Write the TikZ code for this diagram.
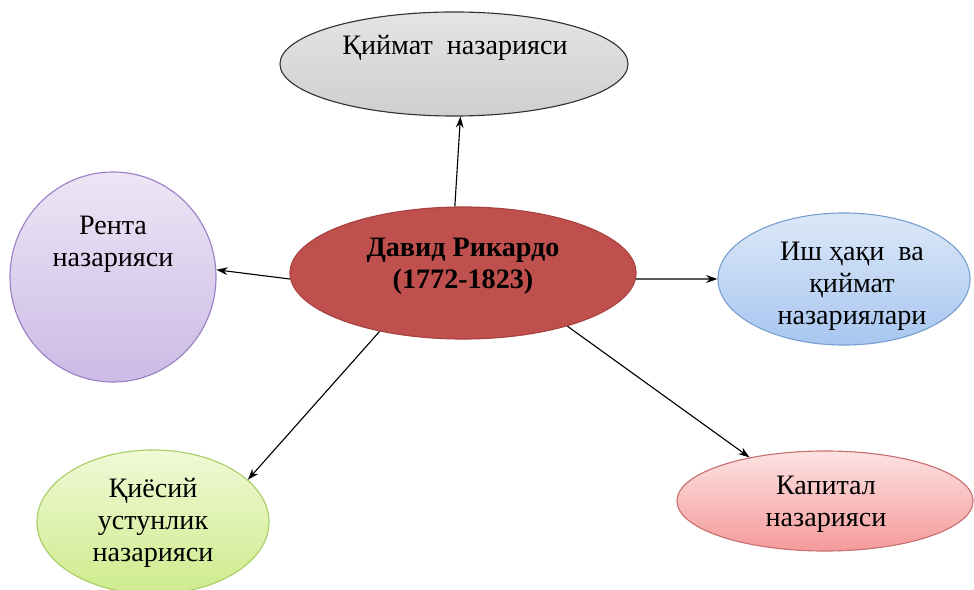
\documentclass[tikz,border=0pt]{standalone}
\usepackage{fontspec}
\setmainfont{LiberationSerif}[Extension=.ttf, UprightFont=*-Regular, BoldFont=*-Bold, ItalicFont=*-Italic, BoldItalicFont=*-BoldItalic]
\usetikzlibrary{shapes.geometric,arrows.meta}
\definecolor{greytop}{HTML}{E4E4E4}
\definecolor{greybot}{HTML}{CFCFCF}
\definecolor{purpletop}{HTML}{EDE6F5}
\definecolor{purplebot}{HTML}{CBBBE6}
\definecolor{purpleline}{HTML}{9B7FC4}
\definecolor{bluetop}{HTML}{DCE8F8}
\definecolor{bluebot}{HTML}{A8C6F0}
\definecolor{blueline}{HTML}{7AA0D0}
\definecolor{greentop}{HTML}{F1F9D6}
\definecolor{greenbot}{HTML}{CDEB8C}
\definecolor{greenline}{HTML}{A8CF66}
\definecolor{pinktop}{HTML}{FDE2E2}
\definecolor{pinkbot}{HTML}{F49A9A}
\definecolor{pinkline}{HTML}{C87070}
\definecolor{ricardo}{HTML}{C0504D}
\definecolor{ricardoline}{HTML}{A8423F}
\tikzset{
 bubble/.style={ellipse, draw, line width=0.8pt, inner sep=0pt},
 bubbletext/.style={align=center, inner sep=0pt, font=\fontsize{20}{22.7}\selectfont},
 link/.style={-{Stealth[length=8pt,width=5.5pt]}, line width=0.8pt}
}
\begin{document}
\begin{tikzpicture}[x=0.025cm, y=-0.025cm]
 \useasboundingbox (0,0) rectangle (974,590);
 % theories round the centre
 \node[bubble, draw=black!80, top color=greytop, bottom color=greybot, minimum width=8.7cm, minimum height=2.6cm] (kiymat) at (454,64) {};
 \node[bubble, draw=purpleline, top color=purpletop, bottom color=purplebot, minimum width=5.15cm, minimum height=5.25cm] (renta) at (113,277) {};
 \node[bubble, draw=blueline, top color=bluetop, bottom color=bluebot, minimum width=6.3cm, minimum height=3.3cm] (ishhaki) at (844,279) {};
 \node[bubble, draw=greenline, top color=greentop, bottom color=greenbot, minimum width=5.8cm, minimum height=3.6cm] (kiyosiy) at (153,522) {};
 \node[bubble, draw=pinkline, top color=pinktop, bottom color=pinkbot, minimum width=7.4cm, minimum height=2.5cm] (kapital) at (825,501) {};
 \node[bubble, draw=ricardoline, fill=ricardo, minimum width=8.65cm, minimum height=3.3cm] (david) at (463,273) {};
 % texts
 \node[bubbletext] (kiymattext) at (455,48) {Қиймат~ назарияси};
 \node[bubbletext] (rentatext) at (113,244) {Рента\\назарияси};
 \node[bubbletext, font=\fontsize{20}{22.7}\selectfont\bfseries] (davidtext) at (463,266) {Давид Рикардо\\(1772-1823)};
 \node[bubbletext] (ishhakitext) at (852,286) {Иш ҳақи~ ва\\қиймат\\назариялари};
 \node[bubbletext] (kiyosiytext) at (153,523) {Қиёсий\\устунлик\\назарияси};
 \node[bubbletext] (kapitaltext) at (826,504) {Капитал\\назарияси};
 % arrows
 \draw[link] (david.97) -- (kiymat.277);
 \draw[link] (david.182) -- (renta.4);
 \draw[link] (david.358) -- (ishhaki.180);
 \draw[link] (david.215) -- (kiyosiy.24);
 \draw[link] (david.333) -- (kapital.150);
\end{tikzpicture}
\end{document}
